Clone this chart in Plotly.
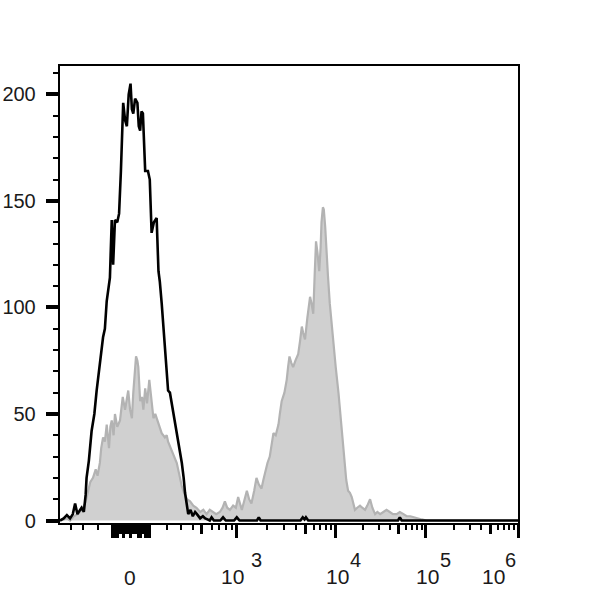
import math
import plotly.graph_objects as go

# ---- data: display channel (biexponential display scale, 0-1000) vs. count ----
ctrl_x = [0, 8, 15, 22, 28, 33, 38, 44, 47, 52, 56, 58, 63, 69, 75, 80, 87, 94, 98, 102, 109, 113,
          116, 120, 125, 129, 133, 138, 142, 146, 150, 154, 157, 160, 164, 169, 172, 175, 178, 181,
          186, 192, 196, 200, 205, 211, 215, 218, 222, 229, 236, 240, 244, 251, 254, 258, 262, 266,
          270, 273, 280, 285, 290, 295, 299, 306, 312, 317, 322, 327, 331, 336, 350, 356, 362, 380,
          386, 392, 430, 434, 438, 525, 530, 534, 537, 542, 738, 742, 746, 1000]
ctrl_y = [0, 1, 2.5, 1, 3, 8, 3, 5, 6, 4, 12, 20, 28, 42, 50, 61, 75, 86, 90, 103, 114, 141,
          120, 141, 140, 144, 164, 196, 188, 185, 200, 205, 193, 191, 198, 196, 185, 183, 192, 191,
          164, 164, 160, 135, 140, 142, 117, 112, 102, 80, 61, 60, 55, 46, 44, 38, 33, 27,
          20, 13, 3, 5, 2, 4, 3, 1, 2, 1, 0.5, 0, 1.5, 0, 0, 1.5, 0, 0,
          1.5, 0, 0, 1.5, 0, 0, 1.5, 0.5, 1.5, 0, 0, 1.5, 0, 0]

stain_x = [0, 15, 22, 30, 39, 47, 55, 62, 66, 72, 78, 82, 87, 90, 94, 98, 102, 107, 110, 113, 117,
           120, 125, 131, 134, 137, 142, 146, 149, 153, 157, 160, 163, 166, 169, 171, 175, 179, 182,
           186, 190, 195, 199, 204, 208, 211, 215, 218, 222, 229, 233, 236, 240, 244, 250, 255, 260,
           266, 271, 277, 284, 291, 298, 306, 313, 320, 327, 334, 341, 349, 355, 360, 365, 371, 375,
           378, 384, 389, 393, 397, 402, 408, 413, 418, 424, 429, 434, 440, 444, 448, 453, 458, 462,
           466, 471, 477, 480, 484, 490, 495, 498, 501, 505, 509, 514, 520, 524, 528, 531, 535, 540,
           546, 549, 553, 556, 559, 562, 566, 569, 571, 574, 576, 579, 582, 585, 589, 593, 597, 602,
           608, 612, 615, 618, 622, 625, 629, 633, 637, 640, 644, 649, 655, 660, 666, 671, 677, 682,
           688, 693, 699, 706, 713, 720, 727, 735, 742, 750, 757, 765, 772, 779, 790, 800, 1000]
stain_y = [0, 1, 0, 2, 3, 5, 8, 14, 18, 20, 24, 21, 27, 34, 39, 37, 45, 34, 44, 47, 40,
           50, 44, 47, 52, 58, 52, 57, 61, 52, 48, 60, 68, 77, 75, 72, 56, 58, 52,
           62, 55, 66, 58, 48, 50, 48, 45, 43, 41, 39, 40, 37, 35, 33, 30, 27, 22,
           16, 13, 10, 9, 7, 6, 4, 5, 3, 5, 4, 3, 4, 6, 9, 6, 5, 6,
           7, 6, 11, 8, 5, 9, 14, 10, 8, 14, 20, 17, 15, 19, 23, 27, 30, 35,
           41, 40, 45, 50, 56, 60, 66, 72, 77, 74, 72, 75, 78, 84, 91, 88, 85, 95,
           105, 102, 97, 115, 131, 126, 117, 128, 140, 147, 146, 138, 125, 115, 102, 92, 83, 72,
           60, 50, 42, 34, 25, 19, 14, 13, 11, 8, 5, 6, 7, 6, 5, 7, 10, 6,
           3, 4, 3, 4, 5, 4, 3, 3, 4, 3, 2, 2, 1.5, 1, 0.5, 0, 0]

# ---- axis ticks (display channel positions) ----
y_ticks = [0, 50, 100, 150, 200]
y_ticktext = ["0", "50", "100", "150", "200"]
zero_pos = 155
decade_pos = [386, 602, 799, 1000]          # 10^3, 10^4, 10^5, 10^6
decade_exp = ["3", "4", "5", "6"]
zero_cluster_long = [114.6, 117.9, 121.2, 124.5, 139.7, 155, 170.3, 174.7, 185.6, 188.9, 192.1, 195.4]
zero_cluster_mid = [127.7, 131, 134.3, 143, 146.3, 149.6, 152.8, 158.3, 161.6, 164.8, 168.1, 177.9, 181.2]
low_mid = [310]
low_short = [24, 51, 82, 233, 264, 290, 331, 347, 363, 375]

major_ticks = zero_cluster_long + decade_pos
mid_ticks = zero_cluster_mid + low_mid
short_ticks = list(low_short)
for a, b in zip(decade_pos[:-1], decade_pos[1:]):
    for k in range(2, 10):
        v = a + math.log10(k) * (b - a)
        if k == 5:
            mid_ticks.append(v)
        else:
            short_ticks.append(v)

XR = [0, 1000]
YR = [-1.17, 213.3]
FONT = "Arial, Liberation Sans, sans-serif"

fig = go.Figure()
fig.add_trace(go.Scatter(x=stain_x, y=stain_y, mode="lines", fill="tozeroy",
                         line=dict(color="#b3b3b3", width=2.2), fillcolor="#d0d0d0",
                         hoverinfo="skip", showlegend=False))
fig.add_trace(go.Scatter(x=ctrl_x, y=ctrl_y, mode="lines",
                         line=dict(color="#000000", width=2.6),
                         hoverinfo="skip", showlegend=False))
# dummy trace so the overlay axis (medium ticks) is drawn
fig.add_trace(go.Scatter(x=[None], y=[None], xaxis="x2", yaxis="y", mode="lines",
                         hoverinfo="skip", showlegend=False))

fig.update_layout(
    width=600, height=600,
    margin=dict(l=60, r=82, t=66, b=77, autoexpand=False),
    paper_bgcolor="white", plot_bgcolor="white",
    font=dict(family=FONT, color="#1a1a1a"),
    showlegend=False,
    xaxis=dict(range=XR, showgrid=False, zeroline=False, automargin=False,
               showline=True, linecolor="black", linewidth=1.5, mirror=True,
               ticks="outside", tickmode="array", tickvals=major_ticks,
               ticklen=13, tickwidth=3, tickcolor="black", showticklabels=False,
               minor=dict(tickmode="array", tickvals=short_ticks, ticks="outside",
                          ticklen=5, tickwidth=1.6, tickcolor="black", showgrid=False)),
    xaxis2=dict(range=XR, overlaying="x", anchor="y", side="bottom", automargin=False,
                showgrid=False, zeroline=False, showline=False,
                ticks="outside", tickmode="array", tickvals=mid_ticks,
                ticklen=9.5, tickwidth=2.6, tickcolor="black", showticklabels=False),
    yaxis=dict(range=YR, showgrid=False, zeroline=False, automargin=False,
               showline=True, linecolor="black", linewidth=1.5, mirror=True,
               ticks="outside", tickmode="array", tickvals=y_ticks, ticktext=y_ticktext,
               ticklen=12.5, tickwidth=3.5, tickcolor="black",
               tickfont=dict(size=20, color="#1a1a1a", family=FONT),
               ticklabelstandoff=6,
               minor=dict(dtick=10, ticks="outside", ticklen=5, tickwidth=1.5,
                          tickcolor="black", showgrid=False)),
)

# x tick labels: "0" and 10^n (base and exponent as separate text)
ann = [dict(x=zero_pos, y=0, xref="x", yref="paper", text="0", showarrow=False,
            xanchor="center", yanchor="middle", yshift=-54, xshift=-1,
            font=dict(size=21, family=FONT, color="#1a1a1a"))]
base_shift = [-4, 2, 1.5, -25]
exp_shift = [19.5, 20, 20, -7.5]
for p, e, bs, es in zip(decade_pos, decade_exp, base_shift, exp_shift):
    ann.append(dict(x=p, y=0, xref="x", yref="paper", text="10", showarrow=False,
                    xanchor="center", yanchor="middle", yshift=-53, xshift=bs,
                    font=dict(size=21, family=FONT, color="#1a1a1a")))
    ann.append(dict(x=p, y=0, xref="x", yref="paper", text=e, showarrow=False,
                    xanchor="center", yanchor="middle", yshift=-37, xshift=es,
                    font=dict(size=20, family=FONT, color="#1a1a1a")))
fig.update_layout(annotations=ann)

# remove the browser's default 8px body margin so the figure sits at the page origin
fig.write_html("out.html", config={"displayModeBar": False},
               post_script="document.body.style.margin='0px';")
